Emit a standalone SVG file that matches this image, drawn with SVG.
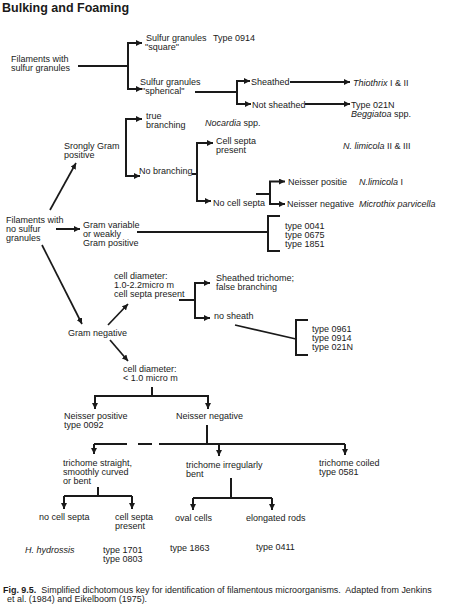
<svg xmlns="http://www.w3.org/2000/svg" width="450" height="609" viewBox="0 0 450 609">
<style>
text{font-family:"Liberation Sans",Arial,sans-serif;font-size:9px;fill:#1a1a1a}
.title{font-size:12.5px;font-weight:bold}
.cap{font-size:8.95px}
.b{font-weight:bold}
.i{font-style:italic}
.c path{fill:none;stroke:#1a1a1a;stroke-width:2}
.c .s{stroke-width:1.7}
.c .a{marker-end:url(#ah)}
</style>
<defs>
<marker id="ah" markerUnits="userSpaceOnUse" markerWidth="6" markerHeight="6" refX="6" refY="3" orient="auto">
<path d="M0,0 L6,3 L0,6 z" fill="#1a1a1a"/>
</marker>
</defs>
<rect width="450" height="609" fill="#fff"/>
<text class="title" x="2" y="12">Bulking and Foaming</text>

<g class="c" id="connectors">
<path d="M78,66 H128"/>
<path class="a" d="M128,66 V43 H142"/>
<path class="a" d="M128,66 V89 H142"/>
<path d="M195,92 H237"/>
<path class="a" d="M237,92 V81 H250"/>
<path class="a" d="M237,92 V104 H251"/>
<path class="a" d="M290,82 H350"/>
<path class="a" d="M305,104 H350"/>
<path class="a" d="M126,147 V119 H142"/>
<path class="a" d="M126,147 V176 H140"/>
<path d="M192,174 H197"/>
<path class="a" d="M197,174 V143 H213"/>
<path class="a" d="M197,174 V201 H211"/>
<path d="M256,194 H270"/>
<path class="a" d="M270,194 V181.5 H285"/>
<path class="a" d="M270,194 V204 H285"/>
<path class="a s" d="M50,210 L76,163"/>
<path class="a" d="M56,229 H80"/>
<path class="a s" d="M42,245 L82,324"/>
<path d="M137,232 H268"/>
<path d="M280,216 H268 V251 H280"/>
<path class="a s" d="M108,325 L128,304"/>
<path class="a s" d="M110,340 L128,361"/>
<path d="M179,300 H195"/>
<path class="a" d="M195,300 V283 H210"/>
<path class="a" d="M195,300 V318 H210"/>
<path class="s" d="M235,325 L296,339"/>
<path d="M308,320 H296 V355 H308"/>
<path d="M152,387 V396"/>
<path class="a" d="M152,396 H95 V409"/>
<path class="a" d="M152,396 H208 V409"/>
<path d="M207,425 V444"/>
<path d="M94,444 H127 M138,444 H152 M159,444 H345"/>
<path class="a" d="M94,444 V454"/>
<path class="a" d="M219,444 V456"/>
<path class="a" d="M345,444 V455"/>
<path d="M98,487 V496"/>
<path d="M64,496 H132"/>
<path class="a" d="M64,496 V509"/>
<path class="a" d="M132,496 V509"/>
<path d="M231,478 V498"/>
<path d="M193,498 H272"/>
<path class="a" d="M193,498 V510"/>
<path class="a" d="M272,498 V510"/>
</g>

<g id="n-sulfur"><text x="11" y="61.5">Filaments with</text><text x="11" y="70.5">sulfur granules</text></g>
<g id="n-square"><text x="146" y="41">Sulfur granules</text><text x="145" y="50">"square"</text></g>
<g id="n-0914a"><text x="213" y="41">Type 0914</text></g>
<g id="n-spherical"><text x="140" y="85">Sulfur granules</text><text x="142" y="94">"spherical"</text></g>
<g id="n-sheathed"><text x="251" y="84.5">Sheathed</text></g>
<g id="n-notsheathed"><text x="252" y="107.5">Not sheathed</text></g>
<g id="n-thiothrix"><text x="353" y="85.5"><tspan class="i">Thiothrix</tspan> I &amp; II</text></g>
<g id="n-021n"><text x="351" y="107.5">Type 021N</text><text x="351" y="116.5"><tspan class="i">Beggiatoa</tspan> spp.</text></g>

<g id="n-nosulfur"><text x="6" y="222.5">Filaments with</text><text x="6" y="231.5">no sulfur</text><text x="6" y="240.5">granules</text></g>
<g id="n-strongly"><text x="64" y="149">Srongly Gram</text><text x="64" y="158">positive</text></g>
<g id="n-true"><text x="146" y="118.5">true</text><text x="146" y="127.5">branching</text></g>
<g id="n-nocardia"><text x="205" y="125.5"><tspan class="i">Nocardia</tspan> spp.</text></g>
<g id="n-nobranch"><text x="139" y="173.5">No branching</text></g>
<g id="n-septa"><text x="216" y="143.5">Cell septa</text><text x="216" y="152.5">present</text></g>
<g id="n-limicola23"><text x="343" y="149"><tspan class="i">N. limicola</tspan> II &amp; III</text></g>
<g id="n-nosepta"><text x="213" y="205.5">No cell septa</text></g>
<g id="n-npos"><text x="288" y="185">Neisser positie</text></g>
<g id="n-limicola1"><text x="359" y="185"><tspan class="i">N.limicola</tspan> I</text></g>
<g id="n-nneg"><text x="287" y="206.5">Neisser negative</text></g>
<g id="n-microthix"><text x="359" y="206.5" class="i">Microthix parvicella</text></g>
<g id="n-gramvar"><text x="83" y="227.5">Gram variable</text><text x="83" y="236.5">or weakly</text><text x="83" y="245.5">Gram positive</text></g>
<g id="n-types1"><text x="285" y="228.5">type 0041</text><text x="285" y="237.5">type 0675</text><text x="285" y="246.5">type 1851</text></g>

<g id="n-gramneg"><text x="68" y="336">Gram negative</text></g>
<g id="n-diam1"><text x="114" y="279">cell diameter:</text><text x="114" y="288">1.0-2.2micro m</text><text x="114" y="297">cell septa present</text></g>
<g id="n-sheathtri"><text x="216" y="281">Sheathed trichome;</text><text x="216" y="290">false branching</text></g>
<g id="n-nosheath"><text x="214" y="319">no sheath</text></g>
<g id="n-types2"><text x="312" y="331.5">type 0961</text><text x="312" y="340.5">type 0914</text><text x="312" y="349.5">type 021N</text></g>
<g id="n-diam2"><text x="123" y="371.5">cell diameter:</text><text x="123" y="380.5">&lt; 1.0 micro m</text></g>
<g id="n-npos2"><text x="64" y="418.5">Neisser positive</text><text x="64" y="427.5">type 0092</text></g>
<g id="n-nneg2"><text x="176" y="418.5">Neisser negative</text></g>
<g id="n-straight"><text x="63" y="466">trichome straight,</text><text x="63" y="475">smoothly curved</text><text x="63" y="484">or bent</text></g>
<g id="n-irreg"><text x="186" y="467.5">trichome irregularly</text><text x="186" y="476.5">bent</text></g>
<g id="n-coiled"><text x="319" y="466">trichome coiled</text><text x="319" y="475">type 0581</text></g>
<g id="n-nocell"><text x="39" y="519.5">no cell septa</text></g>
<g id="n-cellsepta"><text x="115" y="519.5">cell septa</text><text x="115" y="528.5">present</text></g>
<g id="n-oval"><text x="175" y="521">oval cells</text></g>
<g id="n-rods"><text x="246" y="521">elongated rods</text></g>
<g id="n-hydrossis"><text x="25" y="552.5" class="i">H. hydrossis</text></g>
<g id="n-1701"><text x="103" y="552.5">type 1701</text><text x="103" y="561.5">type 0803</text></g>
<g id="n-1863"><text x="170" y="551">type 1863</text></g>
<g id="n-0411"><text x="256" y="550">type 0411</text></g>

<text class="cap" x="3" y="592.5"><tspan class="b">Fig. 9.5.</tspan>&#160; Simplified dichotomous key for identification of filamentous microorganisms.&#160; Adapted from Jenkins</text>
<text class="cap" x="7" y="601.5">et al. (1984) and Eikelboom (1975).</text>
</svg>
